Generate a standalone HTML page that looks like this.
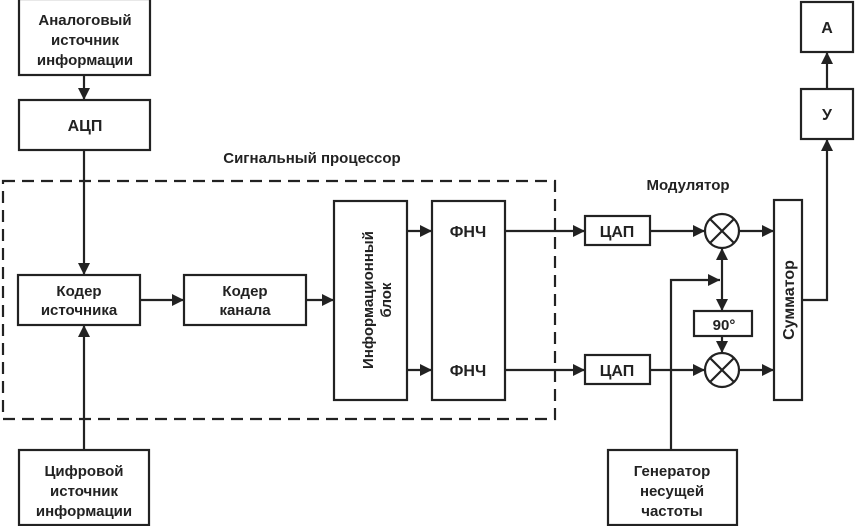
<!DOCTYPE html>
<html><head><meta charset="utf-8"><style>
body{margin:0;background:#fff}
svg text{font-family:"Liberation Sans",Arial,sans-serif;font-weight:bold;fill:#222;text-anchor:middle}
</style></head><body>
<svg width="855" height="526" viewBox="0 0 855 526" xmlns="http://www.w3.org/2000/svg">
<defs><marker id="a" viewBox="0 0 10 10" refX="10" refY="5" markerWidth="13" markerHeight="12" markerUnits="userSpaceOnUse" orient="auto"><path d="M0,0L10,5L0,10z" fill="#222"/></marker></defs>
<g fill="none" stroke="#222" stroke-width="2.2">
<rect x="3" y="181" width="552" height="238" stroke-dasharray="12,7"/>
<rect x="19" y="-1" width="131" height="76"/>
<rect x="19" y="100" width="131" height="50"/>
<rect x="18" y="275" width="122" height="50"/>
<rect x="184" y="275" width="122" height="50"/>
<rect x="334" y="201" width="73" height="199"/>
<rect x="432" y="201" width="73" height="199"/>
<rect x="19" y="450" width="130" height="75"/>
<rect x="608" y="450" width="129" height="75"/>
<rect x="585" y="216" width="65" height="29"/>
<rect x="585" y="355" width="65" height="29"/>
<rect x="774" y="200" width="28" height="200"/>
<rect x="694" y="311" width="58" height="25"/>
<rect x="801" y="2" width="52" height="50"/>
<rect x="801" y="89" width="52" height="50"/>
<circle cx="722" cy="231" r="17"/><circle cx="722" cy="370" r="17"/>
<path d="M710,219L734,243M734,219L710,243M710,358L734,382M734,358L710,382"/>
<path d="M84,75V100" marker-end="url(#a)"/>
<path d="M84,150V275" marker-end="url(#a)"/>
<path d="M84,450V325" marker-end="url(#a)"/>
<path d="M140,300H184" marker-end="url(#a)"/>
<path d="M306,300H334" marker-end="url(#a)"/>
<path d="M407,231H432" marker-end="url(#a)"/>
<path d="M407,370H432" marker-end="url(#a)"/>
<path d="M505,231H585" marker-end="url(#a)"/>
<path d="M505,370H585" marker-end="url(#a)"/>
<path d="M650,231H705" marker-end="url(#a)"/>
<path d="M650,370H705" marker-end="url(#a)"/>
<path d="M739,231H774" marker-end="url(#a)"/>
<path d="M739,370H774" marker-end="url(#a)"/>
<path d="M671,450V280H720" marker-end="url(#a)"/>
<path d="M722,280V248" marker-end="url(#a)"/>
<path d="M722,280V311" marker-end="url(#a)"/>
<path d="M722,336V353" marker-end="url(#a)"/>
<path d="M802,300H827V139" marker-end="url(#a)"/>
<path d="M827,89V52" marker-end="url(#a)"/>
</g>
<g font-size="15">
<text x="85" y="25">Аналоговый</text><text x="85" y="45">источник</text><text x="85" y="65">информации</text>
<text x="85" y="131" font-size="16">АЦП</text>
<text x="79" y="296">Кодер</text><text x="79" y="315">источника</text>
<text x="245" y="296">Кодер</text><text x="245" y="315">канала</text>
<text x="468" y="237" font-size="16">ФНЧ</text><text x="468" y="376" font-size="16">ФНЧ</text>
<text x="617" y="237" font-size="16">ЦАП</text><text x="617" y="376" font-size="16">ЦАП</text>
<text x="724" y="330">90°</text>
<text x="827" y="33" font-size="16">А</text><text x="827" y="120" font-size="16">У</text>
<text x="312" y="163">Сигнальный процессор</text>
<text x="688" y="190">Модулятор</text>
<text x="84" y="476">Цифровой</text><text x="84" y="496">источник</text><text x="84" y="516">информации</text>
<text x="672" y="476">Генератор</text><text x="672" y="496">несущей</text><text x="672" y="516">частоты</text>
<text transform="translate(373,300) rotate(-90)">Информационный</text>
<text transform="translate(391,300) rotate(-90)" font-weight="normal">блок</text>
<text transform="translate(794,300) rotate(-90)" font-size="16">Сумматор</text>
</g>
</svg>
</body></html>
